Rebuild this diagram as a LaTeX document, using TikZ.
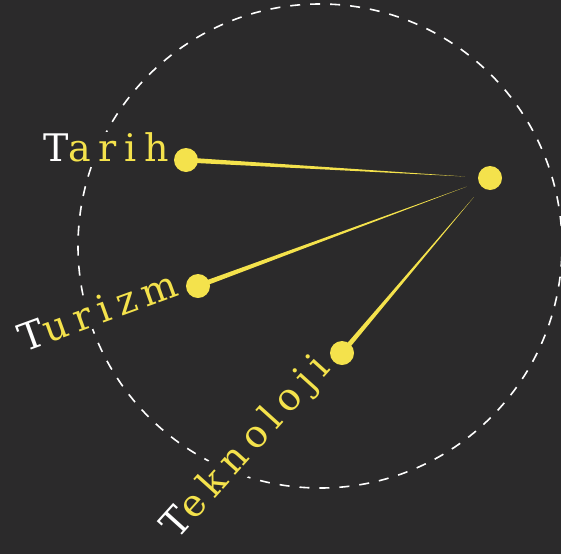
\documentclass[tikz,border=0pt]{standalone}
\usepackage{fontspec}
\setmainfont{DejaVu Serif}
\usetikzlibrary{calc}

\definecolor{bgdark}{HTML}{2B2A2B}
\definecolor{topicyellow}{HTML}{F4E24C}

\tikzset{
	dot/.style={circle, fill=topicyellow, inner sep=0pt, minimum size=24pt},
	topic/.style={font=\fontsize{38}{44}\selectfont\addfontfeature{LetterSpace=20},
		text=topicyellow, fill=bgdark, inner sep=1pt},
	spoke/.style={fill=topicyellow},
}

\begin{document}
\begin{tikzpicture}[x=1pt, y=-1pt]

		% background

		\fill[bgdark] (0,0) rectangle (561,554);
		\useasboundingbox (0,0) rectangle (561,554);

		% dashed ring

		\draw[white, line width=1.6pt, dash pattern=on 10pt off 10pt] (320,246) circle[radius=242pt];

		% define point

		\node[dot] (hub)  at (490,178) {};

		\node[dot] (tarih)  at (186,160) {};

		\node[dot] (turizm)  at (198,286) {};

		\node[dot] (teknoloji)  at (342,353) {};

		% spokes

		\fill[spoke] ($(hub)!25pt!(tarih)$) -- ($(tarih)!2.5pt!90:(hub)$) -- ($(tarih)!2.5pt!-90:(hub)$) -- cycle;

		\fill[spoke] ($(hub)!25pt!(turizm)$) -- ($(turizm)!2.5pt!90:(hub)$) -- ($(turizm)!2.5pt!-90:(hub)$) -- cycle;

		\fill[spoke] ($(hub)!25pt!(teknoloji)$) -- ($(teknoloji)!2.5pt!90:(hub)$) -- ($(teknoloji)!2.5pt!-90:(hub)$) -- cycle;

		% labels

		\node[topic, anchor=mid east] (tarihtext) at ($(tarih)!-16pt!(hub)$) {{\color{white}T}arih};

		\node[topic, anchor=mid east, rotate=20] (turizmtext) at ($(turizm)!-18pt!(hub)$) {{\color{white}T}urizm};

		\node[topic, anchor=mid east, rotate=48] (teknolojitext) at ($(teknoloji)!-18pt!(hub)$) {{\color{white}T}eknoloji};

	\end{tikzpicture}
\end{document}
